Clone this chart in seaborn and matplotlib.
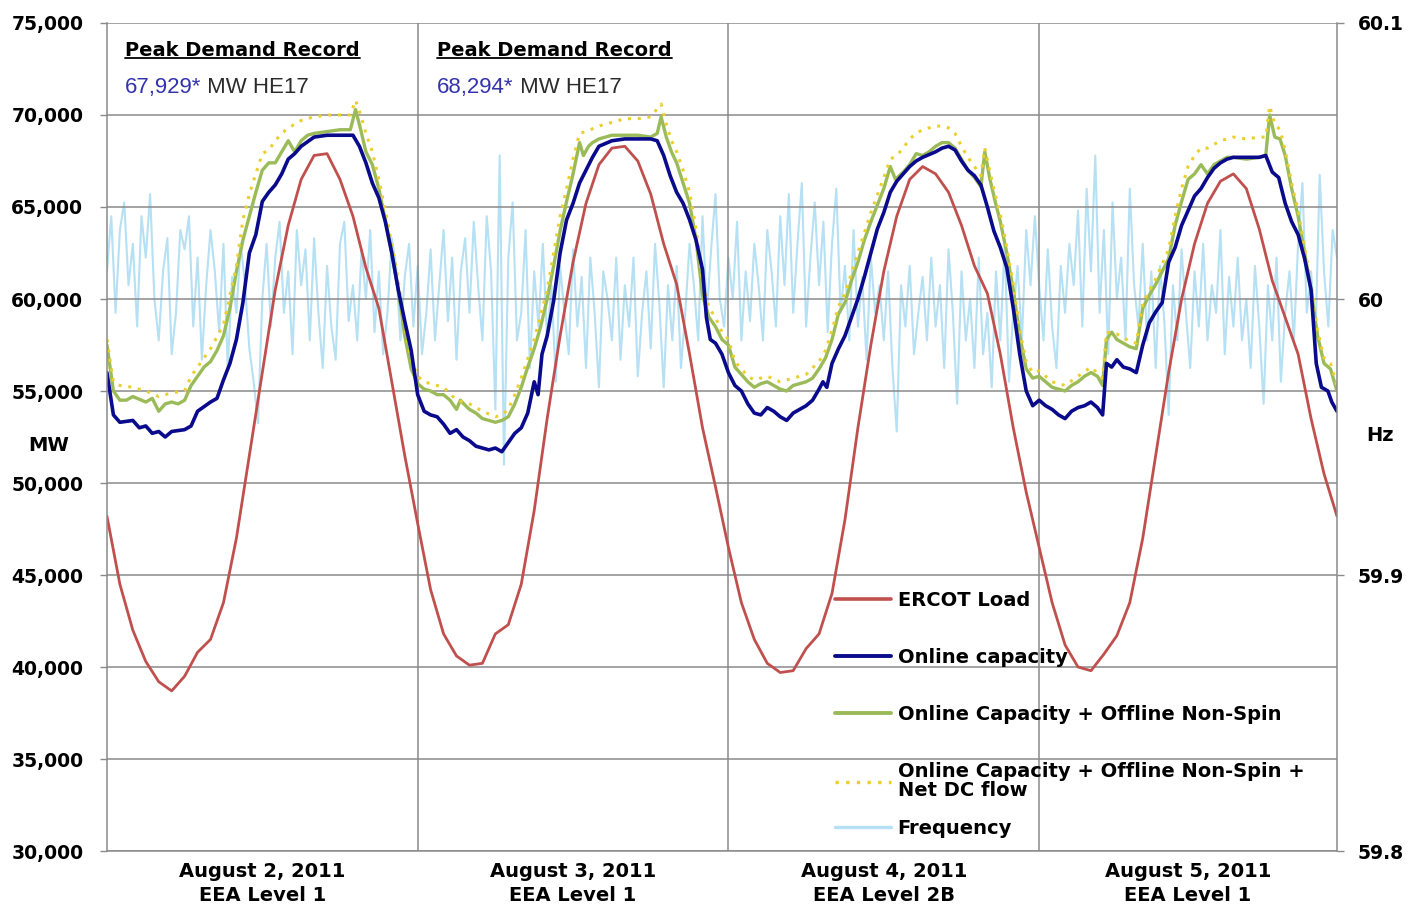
import numpy as np
import matplotlib
matplotlib.use("Agg")
import matplotlib.pyplot as plt
from matplotlib.lines import Line2D
import seaborn as sns

# ---------------- data ----------------
day_labels = ["August 2, 2011\nEEA Level 1", "August 3, 2011\nEEA Level 1",
              "August 4, 2011\nEEA Level 2B", "August 5, 2011\nEEA Level 1"]
day_centers = [12, 36, 60, 83.5]
day_bounds = [24, 48, 72]

# ERCOT load, hourly (MW)
load_mw = [48200, 44500, 42000, 40300, 39200, 38700, 39500, 40800, 41500, 43500, 47000, 51500,
           56000, 60500, 64000, 66500, 67800, 67900, 66500, 64500, 61700, 59500, 55500, 51500,
           47800, 44200, 41800, 40600, 40100, 40200, 41800, 42300, 44500, 48500, 53500, 58000,
           62000, 65200, 67300, 68200, 68300, 67500, 65700, 63000, 60800, 57000, 53000, 49800,
           46500, 43500, 41500, 40200, 39700, 39800, 41000, 41800, 44000, 48000, 53000, 57500,
           61500, 64500, 66500, 67200, 66800, 65800, 64000, 61800, 60300, 57000, 53000, 49500,
           46500, 43500, 41200, 40000, 39800, 40700, 41700, 43500, 47000, 51500, 56000, 60000,
           63000, 65200, 66400, 66800, 66000, 63800, 61000, 59000, 57000, 53500, 50500, 48200]

# Online capacity (hour, MW)
online_pts = [(0, 56000), (0.5, 53700), (1, 53300), (2, 53400), (2.5, 53000), (3, 53100), (3.5, 52700),
              (4, 52800), (4.5, 52500), (5, 52800), (6, 52900), (6.5, 53100), (7, 53900), (8, 54400),
              (8.5, 54600), (9, 55600), (9.5, 56500), (10, 57800), (10.5, 59800), (11, 62500), (11.5, 63500),
              (12, 65300), (12.5, 65800), (13, 66200), (13.5, 66800), (14, 67600), (14.5, 67900), (15, 68300),
              (16, 68800), (17, 68900), (18, 68900), (19, 68900), (19.5, 68300), (20, 67400), (20.5, 66300),
              (21, 65500), (21.5, 64200), (22, 62500), (22.5, 60500), (23, 58800), (23.5, 57200), (24, 54800),
              (24.5, 53900), (25, 53700), (25.5, 53600), (26, 53200), (26.5, 52700), (27, 52900), (27.5, 52500),
              (28, 52300), (28.5, 52000), (29, 51900), (29.5, 51800), (30, 51900), (30.5, 51700), (31, 52200),
              (31.5, 52700), (32, 53000), (32.5, 53800), (33, 55500), (33.3, 54800), (33.6, 57000), (34, 58000),
              (34.5, 59900), (35, 62500), (35.5, 64300), (36, 65200), (36.5, 66300), (37, 67000), (37.5, 67700),
              (38, 68300), (39, 68600), (40, 68700), (41, 68700), (42, 68700), (42.5, 68600), (43, 67800),
              (43.5, 66700), (44, 65800), (44.5, 65200), (45, 64300), (45.5, 63200), (46, 61600), (46.3, 59000),
              (46.6, 57800), (47, 57600), (47.5, 57000), (48, 56000), (48.5, 55300), (49, 55000), (49.5, 54300),
              (50, 53800), (50.5, 53700), (51, 54100), (51.5, 53900), (52, 53600), (52.5, 53400), (53, 53800),
              (53.5, 54000), (54, 54200), (54.5, 54500), (55, 55100), (55.3, 55500), (55.6, 55200), (56, 56500),
              (56.5, 57300), (57, 58000), (57.5, 59000), (58, 60000), (58.5, 61200), (59, 62500), (59.5, 63800),
              (60, 64700), (60.5, 65800), (61, 66400), (61.5, 66800), (62, 67200), (62.5, 67500), (63, 67700),
              (64, 68000), (64.5, 68200), (65, 68300), (65.5, 68100), (66, 67500), (66.5, 67000), (67, 66700),
              (67.5, 66200), (68, 65000), (68.5, 63700), (69, 62800), (69.5, 61700), (70, 59500), (70.5, 57000),
              (71, 55000), (71.5, 54200), (72, 54500), (72.5, 54200), (73, 54000), (73.5, 53700), (74, 53500),
              (74.5, 53900), (75, 54100), (75.5, 54200), (76, 54400), (76.5, 54100), (76.9, 53700), (77.2, 56500),
              (77.6, 56300), (78, 56700), (78.5, 56300), (79, 56200), (79.5, 56000), (80, 57500), (80.5, 58700),
              (81, 59300), (81.5, 59800), (82, 62000), (82.5, 62800), (83, 64000), (83.5, 64800), (84, 65600),
              (84.5, 66000), (85, 66600), (85.5, 67100), (86, 67400), (86.5, 67600), (87, 67700), (88, 67700),
              (89, 67700), (89.5, 67800), (90, 66900), (90.5, 66600), (91, 65200), (91.5, 64200), (92, 63500),
              (92.5, 62200), (93, 60500), (93.4, 56500), (93.8, 55200), (94.3, 55000), (94.6, 54400), (95, 53900)]

# Online capacity + offline non-spin (hour, MW)
nonspin_pts = [(0, 57500), (0.5, 55000), (1, 54500), (1.5, 54500), (2, 54700), (3, 54400), (3.5, 54600),
               (4, 53900), (4.5, 54300), (5, 54400), (5.5, 54300), (6, 54500), (6.5, 55300), (7, 55800),
               (7.5, 56300), (8, 56600), (8.5, 57200), (9, 58000), (9.5, 59500), (10, 61500), (10.5, 63200),
               (11, 64500), (11.5, 65800), (12, 67000), (12.5, 67400), (13, 67400), (13.5, 68000), (14, 68600),
               (14.5, 68000), (15, 68600), (15.5, 68900), (16, 69000), (17, 69100), (18, 69200), (18.8, 69200),
               (19.2, 70300), (19.6, 69200), (20, 68000), (20.5, 67300), (21, 66000), (21.5, 64300), (22, 62500),
               (22.5, 60500), (23, 58000), (23.5, 56200), (24, 55400), (24.5, 55100), (25, 55000), (25.5, 54800),
               (26, 54800), (26.5, 54500), (27, 54000), (27.3, 54500), (27.7, 54200), (28, 54000), (28.5, 53800),
               (29, 53500), (29.5, 53400), (30, 53300), (30.5, 53400), (31, 53600), (31.5, 54300), (32, 55200),
               (32.5, 56300), (33, 57300), (33.5, 58500), (34, 60000), (34.5, 61800), (35, 63700), (35.5, 65300),
               (36, 66800), (36.5, 68500), (36.8, 67800), (37.2, 68300), (37.5, 68500), (38, 68700), (39, 68900),
               (40, 68900), (41, 68900), (42, 68800), (42.5, 69000), (42.8, 69900), (43.2, 68800), (43.6, 68000),
               (44, 67400), (44.5, 66300), (45, 65200), (45.5, 63200), (46, 60200), (46.5, 59000), (47, 58500),
               (47.5, 57800), (48, 57500), (48.5, 56300), (49, 55900), (49.5, 55500), (50, 55200), (50.5, 55400),
               (51, 55500), (51.5, 55300), (52, 55100), (52.5, 55000), (53, 55300), (53.5, 55400), (54, 55500),
               (54.5, 55700), (55, 56200), (55.5, 56800), (56, 57800), (56.5, 59200), (57, 59800), (57.5, 61000),
               (58, 62000), (58.5, 63200), (59, 64200), (59.5, 65100), (60, 66000), (60.5, 67200), (60.9, 66500),
               (61.5, 66900), (62, 67300), (62.5, 67900), (63, 67800), (63.5, 68000), (64, 68300), (64.5, 68500),
               (65, 68500), (65.5, 68200), (66, 67600), (66.5, 67000), (67, 66600), (67.5, 66100), (67.8, 68000),
               (68.2, 66500), (68.6, 65300), (69, 64200), (69.5, 62500), (70, 60500), (70.5, 58000), (71, 56200),
               (71.5, 55700), (72, 55800), (72.5, 55500), (73, 55200), (73.5, 55100), (74, 55000), (74.5, 55300),
               (75, 55500), (75.5, 55800), (76, 56000), (76.5, 55800), (76.9, 55300), (77.2, 57800), (77.6, 58200),
               (78, 57800), (78.5, 57600), (79, 57400), (79.5, 57300), (80, 59500), (80.5, 60200), (81, 60800),
               (81.5, 61500), (82, 62200), (82.5, 64000), (83, 65300), (83.5, 66500), (84, 66800), (84.5, 67300),
               (85, 66800), (85.5, 67300), (86, 67500), (86.5, 67700), (87, 67700), (88, 67600), (89, 67700),
               (89.5, 67800), (89.8, 70000), (90.2, 68800), (90.6, 68700), (91, 67800), (91.5, 66000), (92, 64500),
               (92.5, 62500), (93, 60500), (93.5, 58000), (94, 56500), (94.5, 56200), (95, 55000)]

# Online capacity + offline non-spin + net DC flow (hour, MW)
dcflow_pts = [(0, 57800), (0.5, 55500), (1, 55300), (2, 55200), (3, 55000), (4, 54700), (5, 54900), (6, 55000),
              (6.5, 55800), (7, 56300), (8, 57300), (9, 58600), (10, 61800), (10.5, 64300), (11, 65700),
              (11.5, 66800), (12, 67900), (12.5, 68100), (13, 68600), (13.5, 69000), (14, 69300), (15, 69700),
              (16, 69900), (17, 70000), (18, 70000), (18.8, 70000), (19.2, 70800), (19.6, 70000), (20, 69000),
              (20.5, 68000), (21, 66500), (21.5, 64800), (22, 63000), (22.5, 61000), (23, 58500), (23.5, 56700),
              (24, 55800), (24.5, 55500), (25, 55400), (26, 55200), (27, 54500), (28, 54300), (29, 53900),
              (30, 53600), (30.5, 53700), (31, 54000), (31.5, 54800), (32, 55700), (33, 57800), (34, 60500),
              (34.5, 62500), (35, 64500), (35.5, 66000), (36, 67600), (36.5, 69000), (37, 69100), (38, 69400),
              (39, 69600), (40, 69800), (41, 69800), (42, 69900), (42.8, 70600), (43.2, 69500), (43.6, 68600),
              (44, 68000), (44.5, 67000), (45, 65800), (45.5, 63800), (46, 61000), (46.5, 59500), (47, 59000),
              (47.5, 58200), (48, 57800), (48.5, 56600), (49, 56200), (49.5, 55800), (50, 55600), (51, 55800),
              (52, 55500), (53, 55700), (54, 55900), (55, 56600), (55.5, 57200), (56, 58300), (56.5, 59600),
              (57, 60300), (58, 62500), (59, 64700), (60, 66600), (60.5, 67600), (61, 67800), (61.5, 68200),
              (62, 68700), (62.5, 69000), (63, 69200), (64, 69400), (64.5, 69400), (65, 69300), (65.5, 69000),
              (66, 68300), (66.5, 67700), (67, 67200), (67.5, 66700), (67.8, 68200), (68.2, 66900), (68.6, 65700),
              (69, 64600), (69.5, 62800), (70, 60800), (70.5, 58300), (71, 56600), (71.5, 56000), (72, 56100),
              (72.5, 55800), (73, 55500), (74, 55300), (75, 55800), (76, 56300), (76.9, 55700), (77.2, 58200),
              (78, 58100), (79, 57700), (79.5, 57600), (80, 59800), (81, 61100), (82, 62700), (82.5, 64500),
              (83, 66000), (83.5, 67200), (84, 67800), (84.5, 68200), (85, 68200), (86, 68600), (87, 68800),
              (88, 68700), (89, 68800), (89.5, 68800), (89.8, 70500), (90.2, 69500), (90.6, 69200), (91, 68100),
              (91.5, 66300), (92, 64800), (92.5, 62800), (93, 60800), (93.5, 58300), (94, 56800), (94.5, 56500),
              (95, 55300)]

# System frequency, every 20 minutes (Hz)
freq_hz = [60.010, 60.030, 59.995, 60.025, 60.035, 60.005, 60.020, 59.990, 60.030, 60.015, 60.038, 60.000,
           59.985, 60.010, 60.022, 59.980, 59.995, 60.025, 60.018, 60.030, 59.990, 60.015, 59.978, 60.005,
           60.025, 60.010, 59.988, 60.020, 59.975, 60.008, 59.995, 60.020, 60.005, 59.982, 59.970, 59.955,
           60.000, 60.020, 59.990, 60.015, 60.028, 59.995, 60.010, 59.980, 60.025, 60.005, 60.018, 59.985,
           60.022, 59.995, 59.975, 60.012, 59.990, 59.978, 60.020, 60.028, 59.992, 60.005, 59.985, 60.018,
           60.000, 60.025, 59.988, 60.010, 59.980, 59.995, 60.022, 60.012, 59.985, 60.008, 60.020, 59.990,
           60.012, 59.980, 59.995, 60.018, 59.985, 60.005, 60.025, 59.992, 60.015, 59.978, 60.010, 60.022,
           59.995, 60.028, 60.005, 59.985, 60.030, 60.010, 59.960, 60.052, 59.940, 60.015, 60.035, 59.985,
           59.995, 60.025, 59.975, 60.010, 59.990, 60.020, 59.985, 60.005, 59.970, 60.012, 59.995, 59.980,
           60.018, 59.990, 60.008, 59.975, 60.015, 59.995, 59.968, 60.010, 60.000, 59.985, 60.015, 59.978,
           60.005, 59.990, 60.015, 59.972, 59.995, 60.010, 59.982, 60.020, 59.998, 59.968, 60.005, 59.985,
           60.012, 59.975, 59.995, 60.020, 60.005, 59.985, 60.030, 59.995, 60.018, 60.038, 60.000, 59.990,
           60.015, 60.000, 60.028, 59.985, 60.010, 59.992, 60.020, 60.005, 59.985, 60.025, 60.010, 59.990,
           60.030, 60.005, 60.038, 59.995, 60.020, 60.042, 59.990, 60.015, 60.035, 60.005, 60.028, 59.988,
           60.020, 60.040, 59.995, 60.012, 59.985, 60.025, 59.990, 60.008, 59.978, 60.015, 59.995, 60.005,
           59.985, 60.010, 59.975, 59.952, 60.005, 59.990, 60.012, 59.980, 59.995, 60.008, 59.985, 60.015,
           59.990, 60.005, 59.975, 60.018, 59.995, 59.962, 60.010, 59.985, 60.000, 59.975, 60.015, 59.980,
           59.995, 59.968, 60.010, 59.985, 60.020, 59.970, 59.995, 60.012, 59.985, 60.025, 60.005, 60.030,
           60.005, 59.985, 60.018, 59.990, 59.975, 60.012, 59.995, 60.020, 60.005, 60.032, 59.990, 60.040,
           60.010, 60.052, 59.995, 60.025, 59.980, 60.035, 60.000, 60.015, 59.985, 60.040, 60.005, 59.990,
           60.020, 59.985, 60.010, 59.975, 60.012, 59.992, 59.958, 60.005, 59.985, 60.018, 59.995, 59.975,
           60.010, 59.990, 60.020, 59.985, 60.005, 59.995, 60.025, 59.980, 60.008, 59.990, 60.015, 59.985,
           60.000, 59.975, 60.012, 59.990, 59.962, 60.005, 59.985, 60.015, 59.970, 59.995, 60.010, 59.985,
           60.020, 60.042, 59.995, 60.010, 59.985, 60.045, 60.010, 59.990, 60.025, 60.015]

mw_ticks = [30000, 35000, 40000, 45000, 50000, 55000, 60000, 65000, 70000, 75000]
hz_ticks = [59.8, 59.9, 60.0, 60.1]

# ---------------- plotting ----------------
sns.set_theme(style="white")
plt.rcParams['font.family'] = ['DejaVu Sans']
plt.rcParams['text.color'] = 'black'
plt.rcParams['axes.labelcolor'] = 'black'
plt.rcParams['xtick.color'] = 'black'
plt.rcParams['ytick.color'] = 'black'

load_h = np.arange(len(load_mw))
freq_h = np.arange(len(freq_hz)) / 3.0
online_h, online_mw = zip(*online_pts)
nonspin_h, nonspin_mw = zip(*nonspin_pts)
dc_h, dc_mw = zip(*dcflow_pts)

C_LOAD = '#C0504D'
C_ONLINE = '#0A0A8C'
C_NONSPIN = '#9BBB59'
C_DC = '#EBCF2E'
C_FREQ = '#B6E0F3'
GRID = '#8A8A8A'
DOTS = (0, (1, 2.2))

fig = plt.figure(figsize=(14.22, 9.09), dpi=100)
ax = fig.add_axes([0.0752, 0.0638, 0.8650, 0.9109])
ax2 = ax.twinx()

sns.lineplot(x=freq_h, y=freq_hz, ax=ax2, color=C_FREQ, lw=1.5, legend=False)
ax.set_zorder(ax2.get_zorder() + 1)
ax.patch.set_visible(False)

sns.lineplot(x=load_h, y=load_mw, ax=ax, color=C_LOAD, lw=2.0, legend=False)
sns.lineplot(x=list(nonspin_h), y=list(nonspin_mw), ax=ax, color=C_NONSPIN, lw=2.4, legend=False)
sns.lineplot(x=list(dc_h), y=list(dc_mw), ax=ax, color=C_DC, lw=2.2, linestyle=DOTS, legend=False)
sns.lineplot(x=list(online_h), y=list(online_mw), ax=ax, color=C_ONLINE, lw=2.6, legend=False)

ax.set_xlim(0, 95)
ax.set_ylim(30000, 75000)
ax2.set_ylim(59.8, 60.1)

ax.set_yticks(mw_ticks)
ax.set_yticklabels([f"{v:,}" for v in mw_ticks], fontsize=13.5, fontweight='bold')
ax2.set_yticks(hz_ticks)
ax2.set_yticklabels([f"{v:g}" for v in hz_ticks], fontsize=13.5, fontweight='bold')

ax.set_xticks(day_centers)
ax.set_xticklabels(day_labels, fontsize=14, fontweight='bold', linespacing=1.35)
ax.set_xticks(day_bounds, minor=True)
ax.tick_params(axis='x', which='both', length=0, pad=8)
ax.tick_params(axis='y', length=5, color=GRID, width=1, pad=12, left=True)
ax2.tick_params(axis='y', length=5, color=GRID, width=1, pad=10, right=True)

ax.yaxis.grid(True, color=GRID, lw=1.1)
ax.xaxis.grid(True, which='minor', color=GRID, lw=1.1)
ax.xaxis.grid(False, which='major')
for s in ['left', 'bottom', 'right']:
    ax.spines[s].set_visible(True)
    ax.spines[s].set_color(GRID)
    ax.spines[s].set_linewidth(1.1)
ax.spines['top'].set_visible(False)
for s in ax2.spines.values():
    s.set_visible(False)

ax.set_ylabel("MW", rotation=0, fontsize=14, fontweight='bold', va='center', ha='center')
ax.yaxis.set_label_coords(-0.047, 0.49)
ax2.set_ylabel("Hz", rotation=0, fontsize=14, fontweight='bold', va='center', ha='center')
ax2.yaxis.set_label_coords(1.035, 0.502)
ax.set_xlabel("")

# annotations
peak_titles = [(1.4, "67,929*"), (25.5, "68,294*")]
title_objs = []
for hx, val in peak_titles:
    t = ax.text(hx, 73530, "Peak Demand Record", fontsize=14, fontweight='bold', va='center', ha='left',
                color='black')
    title_objs.append(t)
    tv = ax.text(hx, 71520, val, fontsize=16, family='Liberation Sans', color='#3333B0',
                 va='center', ha='left')
    ax.annotate(" MW HE17", xy=(1, 0), xycoords=tv, va='bottom', ha='left', fontsize=16,
                family='Liberation Sans', color='#2b2b2b')

# legend (two blocks to mimic the uneven spacing of the original)
leg_kw = dict(loc='upper left', frameon=False, prop={'weight': 'bold', 'size': 14},
              handlelength=2.85, handletextpad=0.36, borderpad=0, borderaxespad=0)
handles1 = [Line2D([], [], color=C_LOAD, lw=2.6),
            Line2D([], [], color=C_ONLINE, lw=2.8),
            Line2D([], [], color=C_NONSPIN, lw=2.8),
            Line2D([], [], color=C_DC, lw=2.4, linestyle=DOTS)]
labels1 = ["ERCOT Load", "Online capacity", "Online Capacity + Offline Non-Spin",
           "Online Capacity + Offline Non-Spin +\nNet DC flow"]
leg1 = ax.legend(handles1, labels1, bbox_to_anchor=(0.592, 0.314), labelspacing=1.96, **leg_kw)
for txt in leg1.get_texts():
    txt.set_linespacing(1.0)
ax.add_artist(leg1)
leg2 = ax.legend([Line2D([], [], color=C_FREQ, lw=2.4)], ["Frequency"],
                 bbox_to_anchor=(0.592, 0.0386), **leg_kw)

# underline the titles
fig.canvas.draw()
r = fig.canvas.get_renderer()
inv = fig.transFigure.inverted()
for t in title_objs:
    bb = t.get_window_extent(renderer=r)
    (x0, y0), (x1, _) = inv.transform([[bb.x0, bb.y0 + 2], [bb.x1, bb.y0 + 2]])
    fig.add_artist(Line2D([x0, x1], [y0, y0], color='black', lw=1.3, transform=fig.transFigure))

fig.savefig("out.png", dpi=100)
